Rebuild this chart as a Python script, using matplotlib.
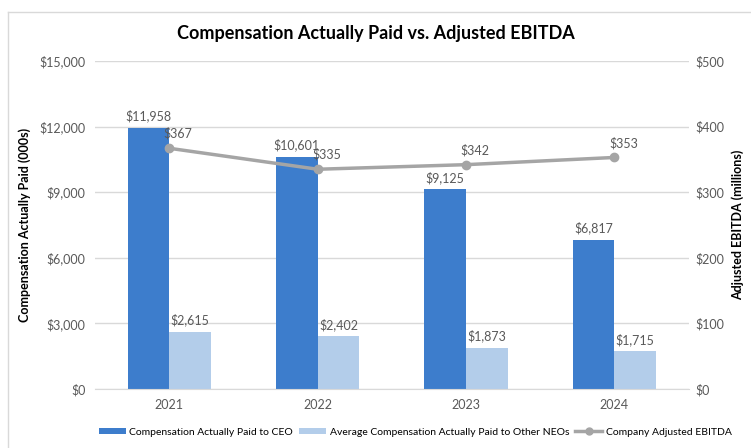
import numpy as np
import matplotlib.pyplot as plt
from matplotlib.lines import Line2D

years = ['2021', '2022', '2023', '2024']
ceo_cap = [11958, 10601, 9125, 6817]
neo_cap = [2615, 2402, 1873, 1715]
ebitda = [367, 335, 342, 353]

left_ticks = [0, 3000, 6000, 9000, 12000, 15000]
right_ticks = [0, 100, 200, 300, 400, 500]

plt.rcParams['font.family'] = ['Lato', 'DejaVu Sans']

azul = '#3d7dcc'
celeste = '#b3cdea'
gris = '#a5a5a5'
texto = '#595959'

fig = plt.figure(figsize=(7.51, 4.48), dpi=100)
ax = fig.add_axes([0.1265, 0.1317, 0.7905, 0.7321])
ax2 = ax.twinx()

x = np.arange(len(years))
w = 0.28
b1 = ax.bar(x - w / 2, ceo_cap, w, color=azul, zorder=2)
b2 = ax.bar(x + w / 2, neo_cap, w, color=celeste, zorder=2)

for xi, v in zip(x, ceo_cap):
    ax.annotate(f'${v:,}', (xi - w / 2, v), xytext=(0, 4), textcoords='offset points',
                ha='center', va='bottom', fontsize=9, color=texto)
for xi, v in zip(x, neo_cap):
    ax.annotate(f'${v:,}', (xi + w / 2, v), xytext=(0, 4), textcoords='offset points',
                ha='center', va='bottom', fontsize=9, color=texto)

ax2.plot(x, ebitda, color=gris, lw=2.5, marker='o', ms=6, zorder=3)
for xi, v in zip(x, ebitda):
    ax2.annotate(f'${v}', (xi, v), xytext=(-4, 6), textcoords='offset points',
                 ha='left', va='bottom', fontsize=9, color=texto)

ax.set_xlim(-0.5, 3.5)
ax.set_ylim(0, 15000)
ax2.set_ylim(0, 500)
ax.set_yticks(left_ticks)
ax.set_yticklabels([f'${t:,}' for t in left_ticks])
ax2.set_yticks(right_ticks)
ax2.set_yticklabels([f'${t}' for t in right_ticks])
ax.set_xticks(x)
ax.set_xticklabels(years)

ax.grid(axis='y', color='#d9d9d9', lw=1, zorder=0)
ax.set_axisbelow(True)
for a in (ax, ax2):
    for s in a.spines.values():
        s.set_visible(False)
    a.tick_params(length=0, labelsize=9, colors=texto, pad=7)
ax2.tick_params(pad=5)
ax.spines['bottom'].set_visible(True)
ax.spines['bottom'].set_color('#d9d9d9')

ax.set_ylabel('Compensation Actually Paid (000s)', fontsize=9, fontweight='bold', labelpad=6)
ax2.set_ylabel('Adjusted EBITDA (millions)', fontsize=9, fontweight='bold', labelpad=5)

fig.text(0.5, 0.925, 'Compensation Actually Paid vs. Adjusted EBITDA', ha='center',
         va='center', fontsize=13, fontweight='bold')

handles = [b1, b2, Line2D([], [], color=gris, lw=2.5, marker='o', ms=5)]
labels = ['Compensation Actually Paid to CEO',
          'Average Compensation Actually Paid to Other NEOs',
          'Company Adjusted EBITDA']
fig.legend(handles, labels, loc='center', bbox_to_anchor=(0.553, 0.035), ncol=3,
           frameon=False, fontsize=7.5, handlelength=2.6, handleheight=0.6,
           columnspacing=0.6, handletextpad=0.3)

# marco del grafico
fig.add_artist(Line2D([0.0107, 0.0107], [0, 0.973], color='#d9d9d9', lw=1))
fig.add_artist(Line2D([0.0107, 1.0], [0.973, 0.973], color='#d9d9d9', lw=1))

fig.savefig('out.png', dpi=100)
